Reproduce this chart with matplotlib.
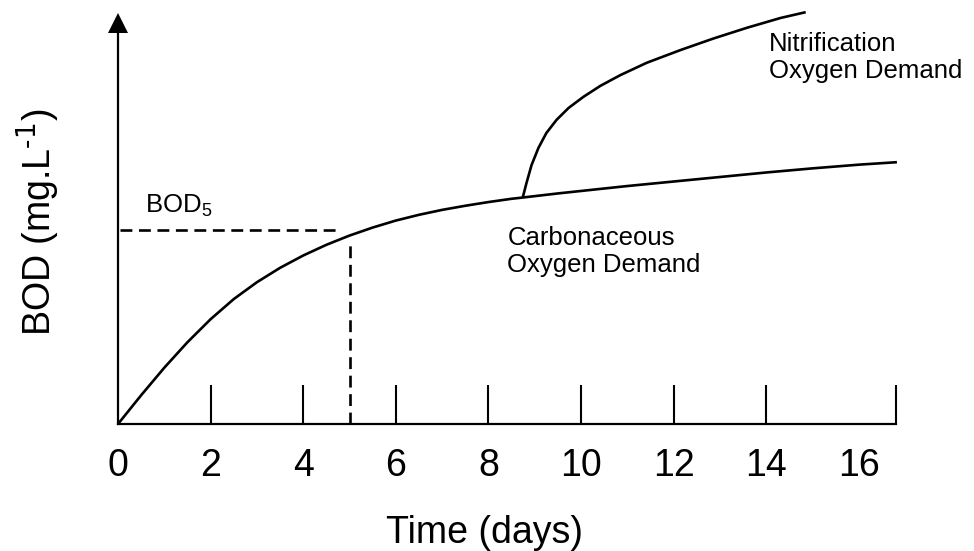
import numpy as np
import matplotlib
matplotlib.use("Agg")
from matplotlib import pyplot as plt

plt.rcParams['font.family'] = ['Liberation Sans', 'DejaVu Sans']
plt.rcParams['mathtext.default'] = 'regular'

# Carbonaceous BOD curve (arbitrary units)
carb_days = [0.0, 0.5, 1.0, 1.5, 2.0, 2.5, 3.0, 3.5, 4.0, 4.5, 5.0, 5.5, 6.0,
             6.5, 7.0, 7.5, 8.0, 8.5, 8.74, 9.5, 10.0, 11.0, 12.0, 13.0, 14.0,
             15.0, 16.0, 16.82]
carb_bod = [0.0, 7.0, 13.7, 19.9, 25.5, 30.4, 34.5, 38.0, 41.0, 43.6, 45.85,
            47.8, 49.5, 50.9, 52.1, 53.1, 54.0, 54.8, 55.1, 56.1, 56.7, 57.9,
            59.0, 60.1, 61.2, 62.2, 63.1, 63.7]

# Nitrification branch, starts on the carbonaceous curve
nitr_days = [8.74, 8.82, 8.93, 9.08, 9.25, 9.47, 9.73, 10.05, 10.42, 10.85,
             11.42, 12.15, 12.86, 13.58, 14.31, 14.85]
nitr_bod = [55.1, 58.6, 63.0, 67.2, 70.8, 74.0, 76.9, 79.6, 82.3, 84.9,
            87.9, 91.0, 93.8, 96.4, 98.8, 100.2]

bod5_day = 5.0
bod5_value = 47.2

label_days = [0, 2, 4, 6, 8, 10, 12, 14, 16]
mark_days = [2, 4, 6, 8, 10, 12, 14, 16.8]

fig = plt.figure(figsize=(9.74, 5.51), dpi=100)
ax = fig.add_axes([118 / 974, 1 - 424 / 551, 778 / 974, 411 / 551])

for xs, ys in [(carb_days, carb_bod), (nitr_days, nitr_bod)]:
    ax.plot(xs, ys, color='k', lw=1.9, clip_on=False,
            solid_joinstyle='round', solid_capstyle='butt')

dash = (0, (4.5, 2.5))
ax.plot([0.05, bod5_day - 0.2], [bod5_value, bod5_value], color='k', lw=1.9, ls=dash)
ax.plot([bod5_day, bod5_day], [0, bod5_value - 2.5], color='k', lw=1.9, ls=dash)

ax.set_xlim(0, 16.8)
ax.set_ylim(0, 100)

for s in ['top', 'right']:
    ax.spines[s].set_visible(False)
for s in ['left', 'bottom']:
    ax.spines[s].set_linewidth(1.6)
ax.spines['left'].set_bounds(0, 97.5)

# arrow head on the y axis
ax.plot([0], [0.9757], marker='^', ms=14.5, mew=0, color='k',
        transform=ax.transAxes, clip_on=False)

ax.set_yticks([])
ax.set_xticks(label_days)
ax.set_xticklabels([str(d) for d in label_days])
ax.set_xticks(mark_days, minor=True)
ax.xaxis.remove_overlapping_locs = False
ax.tick_params(axis='x', which='major', length=0, labelsize=27, pad=17)
ax.tick_params(axis='x', which='minor', direction='in', length=28, width=1.5)

ax.text(0.58, 51.3, 'BOD$_5$', fontsize=18.5, va='baseline')
ax.text(8.41, 37.0, 'Carbonaceous\nOxygen Demand', fontsize=18.5, va='baseline',
        linespacing=1.15)
ax.text(14.05, 84.2, 'Nitrification\nOxygen Demand', fontsize=18.5, va='baseline',
        linespacing=1.15)

fig.text(485 / 974, 1 - 543 / 551, 'Time (days)', fontsize=27, ha='center',
         va='baseline')
fig.text(38 / 974, 1 - 222 / 551, r'BOD (mg.L$^{\text{-1}}$)', fontsize=27,
         rotation=90, ha='center', va='center')

fig.savefig('out.png', dpi=100)
